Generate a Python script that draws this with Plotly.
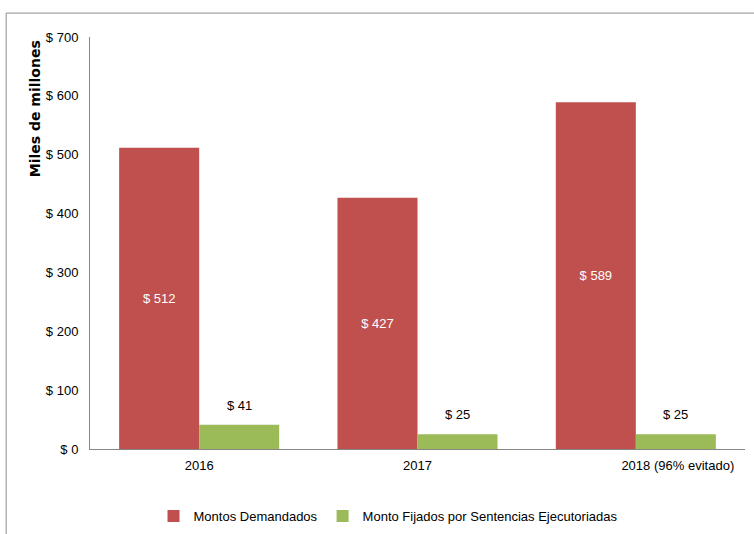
import plotly.graph_objects as go

categories = ["2016", "2017", "2018"]
montos_demandados = [512, 427, 589]
montos_fijados = [41, 25, 25]
y_ticks = [0, 100, 200, 300, 400, 500, 600, 700]
y_tick_labels = [f"$ {v}" for v in y_ticks]
note_2018 = "(96% evitado)"

FONT = "Liberation Sans, Arial, sans-serif"
FS = 13
RED = "#C0504D"
GREEN = "#9BBB59"

fig = go.Figure()
fig.add_trace(go.Bar(
    x=categories, y=montos_demandados, name="Montos Demandados",
    marker=dict(color=RED, line=dict(width=0)),
    text=[f"$ {v}" for v in montos_demandados], textposition="inside",
    insidetextanchor="middle", textangle=0,
    textfont=dict(color="white", size=FS, family=FONT),
))
fig.add_trace(go.Bar(
    x=categories, y=montos_fijados, name="Monto Fijados por Sentencias Ejecutoriadas",
    marker=dict(color=GREEN, line=dict(width=0)),
))

for i, v in enumerate(montos_fijados):
    fig.add_annotation(x=i, y=v, xref="x", yref="y", text=f"$ {v}", showarrow=False,
                       xshift=40, yshift=10, yanchor="bottom",
                       font=dict(size=FS, color="black", family=FONT))

fig.add_annotation(x=len(categories) - 1, y=0, xref="x", yref="y", text=note_2018, showarrow=False,
                   xshift=16, yshift=-16, xanchor="left", yanchor="middle",
                   font=dict(size=FS, color="black", family=FONT))

fig.add_annotation(x=-0.084, y=0.998, xref="paper", yref="paper", text="<b>Miles de millones</b>",
                   textangle=-90, showarrow=False, xanchor="center", yanchor="top",
                   font=dict(size=14, color="black", family="DejaVu Sans, Verdana, sans-serif"))

fig.add_shape(type="rect", xref="paper", yref="paper", x0=-0.128, x1=1.05, y0=-0.3, y1=1.058,
              line=dict(color="#8C8C8C", width=1), fillcolor="rgba(0,0,0,0)", layer="below")

fig.update_layout(
    width=754, height=534,
    margin=dict(l=90, r=9, t=37, b=85, autoexpand=False),
    paper_bgcolor="white", plot_bgcolor="white",
    barmode="group", bargap=0.267, bargroupgap=0,
    font=dict(family=FONT, size=FS, color="black"),
    showlegend=True,
    legend=dict(orientation="h", x=0.455, xanchor="center", y=-0.163, yanchor="middle",
                font=dict(size=FS, family=FONT), tracegroupgap=0, itemwidth=30),
    xaxis=dict(type="category", range=[-0.5, len(categories) - 0.5], showline=True,
               linecolor="#868686", linewidth=1, ticks="", ticklabelstandoff=4, automargin=False,
               showgrid=False, tickfont=dict(size=FS, family=FONT)),
    yaxis=dict(range=[0, 700], tickmode="array", tickvals=y_ticks, ticktext=y_tick_labels,
               showline=True, linecolor="#868686", linewidth=1, showgrid=False, zeroline=False,
               automargin=False,
               ticks="", ticklabelstandoff=8, tickfont=dict(size=FS, family=FONT)),
)

fig.write_html("out.html", config={"displayModeBar": False},
               post_script="document.body.style.margin='0';document.body.style.overflow='hidden';")
